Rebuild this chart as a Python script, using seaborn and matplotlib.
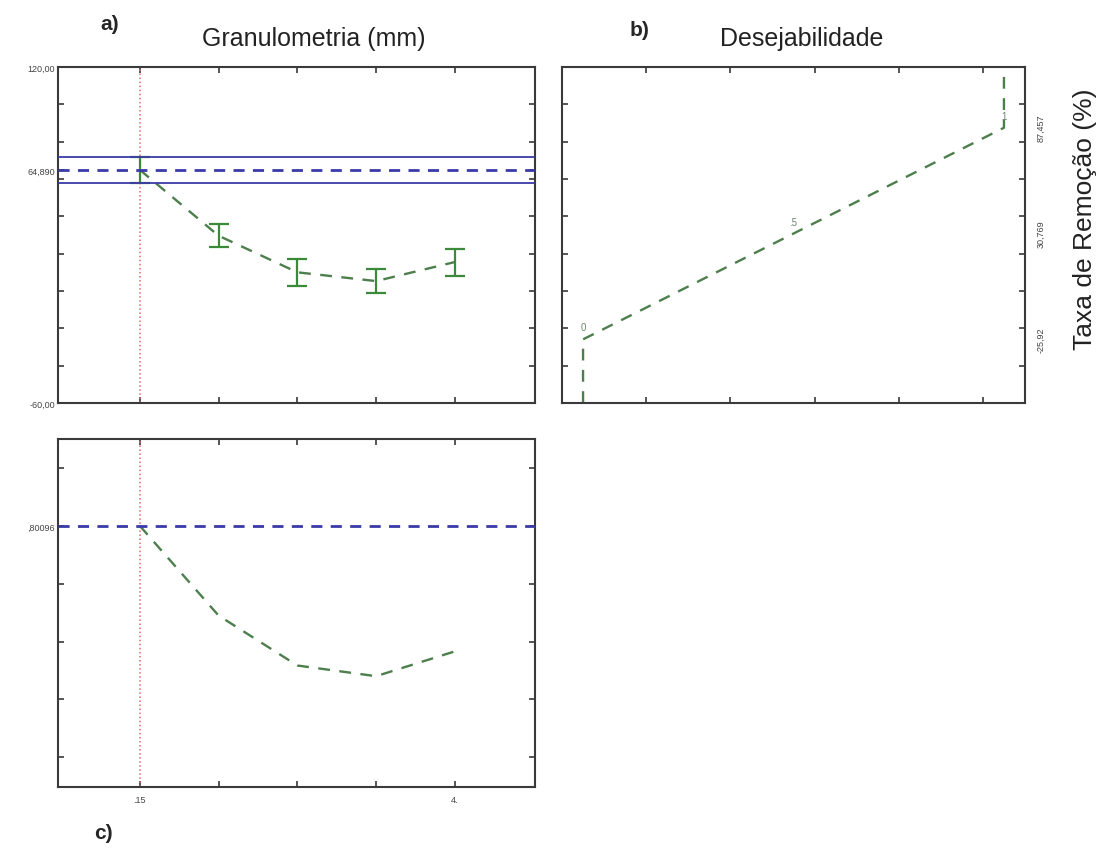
import numpy as np
import pandas as pd
import matplotlib
matplotlib.use("Agg")
import matplotlib.pyplot as plt
import seaborn as sns
from matplotlib.ticker import FixedLocator

# ---- data -------------------------------------------------------------
granulometry = [0.15, 1.1125, 2.075, 3.0375, 4.0]          # mm
removal_mean = [64.89, 29.6, 10.0, 5.3, 15.5]               # %
removal_low = [57.8, 23.4, 2.6, -0.9, 8.2]
removal_high = [71.8, 35.9, 17.1, 11.6, 22.7]
desirability_curve = [0.80096, 0.49, 0.317, 0.28, 0.366]

optimum_removal = 64.89
optimum_ci = [57.8, 71.8]
optimum_desirability = 0.80096

# desirability function for the response
desir_levels = [0.0, 0.0, 0.5, 1.0, 1.0]
desir_response = [-60.0, -25.92, 30.769, 87.457, 120.0]
desir_labels = ["0", ".5", "1"]
desir_label_idx = [1, 2, 3]

removal_ticks = [-60.0, 64.89, 120.0]
removal_ticklabels = ["-60,00", "64,890", "120,00"]
right_ticks = [-25.92, 30.769, 87.457]
right_ticklabels = ["-25,92", "30,769", "87,457"]
gran_ticklabels = [".15", "4."]

# ---- style ------------------------------------------------------------
sns.set_style("white")
plt.rcParams["font.family"] = ["Liberation Sans", "DejaVu Sans"]

green = "#3a8a3a"
green_line = "#4d7f4d"
blue = "#3a3aa8"
red = "#e06a6a"
spine_col = "#3a3a3a"
tick_fs = 6.5

fig = plt.figure(figsize=(11.05, 8.53), dpi=100)
ax_a = fig.add_axes([0.0525, 0.5264, 0.4317, 0.3939])
ax_b = fig.add_axes([0.5086, 0.5264, 0.4190, 0.3939])
ax_c = fig.add_axes([0.0525, 0.0762, 0.4317, 0.4080])


def frame(ax):
    for s in ax.spines.values():
        s.set_visible(True)
        s.set_color(spine_col)
        s.set_linewidth(1.5)
    ax.tick_params(which="both", direction="in", length=4, width=1.2,
                   colors=spine_col, top=True, right=True, left=True,
                   bottom=True, labelsize=tick_fs, labelcolor="#444444")


# ---- a) predicted removal vs granulometry -----------------------------
df_a = pd.DataFrame({"g": granulometry, "r": removal_mean,
                     "lo": removal_low, "hi": removal_high})
ax_a.errorbar(df_a["g"], df_a["r"],
              yerr=[df_a["r"] - df_a["lo"], df_a["hi"] - df_a["r"]],
              fmt="none", ecolor=green, elinewidth=1.6, capsize=7,
              capthick=1.6, zorder=2)
sns.lineplot(data=df_a, x="g", y="r", ax=ax_a, color=green_line,
             linewidth=1.7, linestyle=(0, (5, 4)), zorder=3)
ax_a.axhline(optimum_removal, color=blue, linewidth=2.0,
             linestyle=(0, (4, 3)), zorder=4)
for v in optimum_ci:
    ax_a.axhline(v, color=blue, linewidth=1.3, zorder=4)
ax_a.axvline(granulometry[0], color=red, linewidth=1.1, linestyle=":",
             zorder=1)
ax_a.set_xlim(-0.85, 4.98)
ax_a.set_ylim(-60, 120)
ax_a.set_xticks(granulometry)
ax_a.set_xticklabels([])
ax_a.set_yticks(removal_ticks)
ax_a.set_yticklabels(removal_ticklabels)
ax_a.yaxis.set_minor_locator(FixedLocator(np.arange(-40, 101, 20)))
ax_a.set_xlabel("")
ax_a.set_ylabel("")
frame(ax_a)
ax_a.tick_params(axis="y", which="major", pad=2)

# ---- b) desirability function -----------------------------------------
df_b = pd.DataFrame({"d": desir_levels, "r": desir_response})
sns.lineplot(data=df_b, x="d", y="r", ax=ax_b, sort=False,
             estimator=None, color=green_line, linewidth=1.7,
             linestyle=(0, (5, 4)))
for lab, i in zip(desir_labels, desir_label_idx):
    ax_b.annotate(lab, (desir_levels[i], desir_response[i]),
                  xytext=(0, 5), textcoords="offset points",
                  ha="center", va="bottom", fontsize=7, color="#6f866f")
ax_b.set_xlim(-0.05, 1.05)
ax_b.set_ylim(-60, 120)
ax_b.set_xticks([0.15, 0.35, 0.55, 0.75, 0.95])
ax_b.set_xticklabels([])
ax_b.set_yticks(right_ticks)
ax_b.set_yticklabels(right_ticklabels, rotation=90, va="center")
ax_b.yaxis.set_minor_locator(FixedLocator(np.arange(-40, 101, 20)))
ax_b.set_xlabel("")
ax_b.set_ylabel("")
frame(ax_b)
ax_b.tick_params(axis="y", which="major", length=0, labelleft=False,
                 labelright=True, pad=8)

# ---- c) desirability vs granulometry ----------------------------------
df_c = pd.DataFrame({"g": granulometry, "d": desirability_curve})
sns.lineplot(data=df_c, x="g", y="d", ax=ax_c, color=green_line,
             linewidth=1.7, linestyle=(0, (5, 4)), zorder=3)
ax_c.axhline(optimum_desirability, color=blue, linewidth=2.0,
             linestyle=(0, (4, 3)), zorder=4)
ax_c.axvline(granulometry[0], color=red, linewidth=1.1, linestyle=":",
             zorder=1)
ax_c.set_xlim(-0.85, 4.98)
ax_c.set_ylim(-0.104, 1.102)
ax_c.set_xticks([granulometry[0], granulometry[-1]])
ax_c.set_xticklabels(gran_ticklabels)
ax_c.xaxis.set_minor_locator(FixedLocator(granulometry[1:-1]))
ax_c.set_yticks([optimum_desirability])
ax_c.set_yticklabels([",80096"])
ax_c.yaxis.set_minor_locator(FixedLocator([0.0, 0.2, 0.4, 0.6, 1.0]))
ax_c.set_xlabel("")
ax_c.set_ylabel("")
frame(ax_c)
ax_c.tick_params(axis="x", which="major", pad=6)
ax_c.tick_params(axis="y", which="major", pad=2)

# ---- labels -----------------------------------------------------------
W, H = 1105, 853
fig.text(110 / W, 1 - 24 / H, "a)", fontsize=15, fontweight="bold",
         ha="center", va="center")
fig.text(314 / W, 1 - 39 / H, "Granulometria (mm)", fontsize=18,
         ha="center", va="center", color="#222222")
fig.text(640 / W, 1 - 30 / H, "b)", fontsize=15, fontweight="bold",
         ha="center", va="center")
fig.text(802 / W, 1 - 39 / H, "Desejabilidade", fontsize=18,
         ha="center", va="center", color="#222222")
fig.text(103 / W, 1 - 834 / H, "c)", fontsize=15, fontweight="bold",
         ha="center", va="center")
fig.text(1085 / W, 1 - 219 / H, "Taxa de Remoção (%)", fontsize=19,
         rotation=90, ha="center", va="center", color="#222222")

fig.savefig("out.png", dpi=100)
